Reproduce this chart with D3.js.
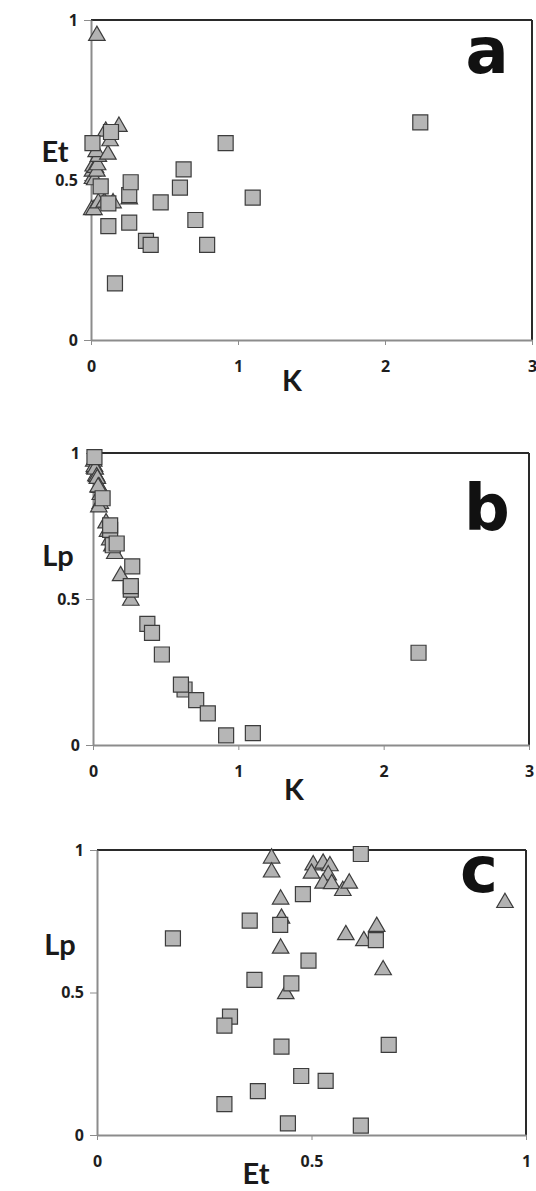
<!DOCTYPE html>
<html>
<head>
<meta charset="utf-8">
<script src="https://cdn.jsdelivr.net/npm/d3@7"></script>
<style>
  body { margin: 0; background: #fff; }
  svg { display: block; }
</style>
</head>
<body>
<div id="chart"></div>
<script>
// squares: K, Et, Lp for each sample
var sqK  = [0.01, 0.136, 0.916, 0.63, 0.605, 1.10, 0.066, 0.26, 0.118, 0.474, 0.71, 0.118, 0.26, 0.374, 0.406, 0.79, 0.163, 2.24, 0.27];
var sqEt = [0.615, 0.65, 0.615, 0.533, 0.476, 0.445, 0.48, 0.453, 0.427, 0.43, 0.375, 0.356, 0.367, 0.31, 0.297, 0.297, 0.177, 0.68, 0.493];
var sqLp = [0.986, 0.684, 0.033, 0.19, 0.207, 0.041, 0.845, 0.532, 0.737, 0.31, 0.154, 0.752, 0.544, 0.415, 0.384, 0.108, 0.69, 0.316, 0.612];

// triangles: K, Et, Lp
var triK  = [0.005, 0.02, 0.05, 0.09, 0.15, 0.26, 0.01, 0.01, 0.015, 0.025, 0.03, 0.04, 0.045, 0.05, 0.035, 0.115, 0.13, 0.1, 0.19, 0.04];
var triEt = [0.407, 0.407, 0.428, 0.43, 0.428, 0.44, 0.504, 0.527, 0.543, 0.50, 0.539, 0.527, 0.547, 0.573, 0.588, 0.58, 0.622, 0.652, 0.667, 0.951];
var triLp = [0.971, 0.922, 0.827, 0.76, 0.655, 0.495, 0.947, 0.953, 0.944, 0.918, 0.912, 0.883, 0.881, 0.857, 0.883, 0.702, 0.681, 0.731, 0.579, 0.815];

var kTicks = [0, 1, 2, 3];
var unitTicks = [0, 0.5, 1];

var squares = sqK.map(function (k, i) { return {K: k, Et: sqEt[i], Lp: sqLp[i]}; });
var triangles = triK.map(function (k, i) { return {K: k, Et: triEt[i], Lp: triLp[i]}; });

// one entry per panel
var panels = [
    {letter: "a", xKey: "K", yKey: "Et", xName: "K", yName: "Et", xDom: [0, 3], xTicks: kTicks,
     x0: 91, x1: 532, y0: 340, y1: 20, yNameX: 55, yNameY: 162, xNameX: 292, xNameY: 391, lx: 487, ly: 73},
    {letter: "b", xKey: "K", yKey: "Lp", xName: "K", yName: "Lp", xDom: [0, 3], xTicks: kTicks,
     x0: 93, x1: 529, y0: 745, y1: 453, yNameX: 58, yNameY: 566, xNameX: 294, xNameY: 800, lx: 487, ly: 530},
    {letter: "c", xKey: "Et", yKey: "Lp", xName: "Et", yName: "Lp", xDom: [0, 1], xTicks: unitTicks,
     x0: 97, x1: 526, y0: 1135, y1: 850, yNameX: 60, yNameY: 955, xNameX: 256, xNameY: 1184, lx: 479, ly: 892}
];

var svg = d3.select("#chart").append("svg")
        .attr("width", 536)
        .attr("height", 1191);

var tri = d3.symbol().type(d3.symbolTriangle).size(118);
var sq = d3.symbol().type(d3.symbolSquare).size(225);

panels.forEach(function (p) {
    var x = d3.scaleLinear().domain(p.xDom).range([p.x0, p.x1]);
    var y = d3.scaleLinear().domain([0, 1]).range([p.y0, p.y1]);
    var g = svg.append("g");

    // frame: top and right dark
    g.append("line").attr("x1", p.x0).attr("x2", p.x1).attr("y1", p.y1).attr("y2", p.y1)
            .attr("stroke", "#2a2a2a").attr("stroke-width", 2);
    g.append("line").attr("x1", p.x1).attr("x2", p.x1).attr("y1", p.y1).attr("y2", p.y0)
            .attr("stroke", "#2a2a2a").attr("stroke-width", 2);

    // axes (grey)
    var xAxis = g.append("g")
            .attr("transform", "translate(0," + p.y0 + ")")
            .call(d3.axisBottom(x).tickValues(p.xTicks).tickSize(5).tickSizeOuter(0)
                    .tickFormat(d3.format("")));
    var yAxis = g.append("g")
            .attr("transform", "translate(" + p.x0 + ",0)")
            .call(d3.axisLeft(y).tickValues(unitTicks).tickSize(7).tickSizeOuter(0)
                    .tickFormat(d3.format("")));
    [xAxis, yAxis].forEach(function (ax) {
        ax.select(".domain").attr("stroke", "#8c8c8c").attr("stroke-width", 2);
        ax.selectAll(".tick line").attr("stroke", "#8c8c8c").attr("stroke-width", 1);
        ax.selectAll(".tick text")
                .attr("fill", "#1e1e1e")
                .style("font-family", "'Open Sans', sans-serif")
                .style("font-weight", "bold")
                .style("font-size", "16px");
    });
    xAxis.selectAll(".tick text").attr("y", 21);
    yAxis.selectAll(".tick text").attr("x", -13);

    // axis titles
    g.append("text").attr("x", p.yNameX).attr("y", p.yNameY)
            .attr("text-anchor", "middle")
            .style("font-family", "Lato, sans-serif").style("font-weight", "bold")
            .style("font-size", "29px").attr("fill", "#1a1a1a")
            .text(p.yName);
    g.append("text").attr("x", p.xNameX).attr("y", p.xNameY)
            .attr("text-anchor", "middle")
            .style("font-family", "Lato, sans-serif").style("font-weight", "bold")
            .style("font-size", "29px").attr("fill", "#1a1a1a")
            .text(p.xName);

    // panel letter
    g.append("text").attr("x", p.lx).attr("y", p.ly)
            .attr("text-anchor", "middle")
            .style("font-family", "'DejaVu Sans', sans-serif").style("font-weight", "bold")
            .style("font-size", "64px").attr("fill", "#111")
            .text(p.letter);

    // markers: triangles under squares
    g.selectAll("path.tri")
            .data(triangles)
            .enter()
            .append("path")
            .attr("class", "tri")
            .attr("d", tri)
            .attr("transform", function (d) {
                return "translate(" + x(d[p.xKey]) + "," + y(d[p.yKey]) + ")";
            })
            .attr("fill", "#b2b2b2")
            .attr("stroke", "#3c3c3c")
            .attr("stroke-width", 1.2);
    g.selectAll("path.sq")
            .data(squares)
            .enter()
            .append("path")
            .attr("class", "sq")
            .attr("d", sq)
            .attr("transform", function (d) {
                return "translate(" + x(d[p.xKey]) + "," + y(d[p.yKey]) + ")";
            })
            .attr("fill", "#b6b6b6")
            .attr("stroke", "#3c3c3c")
            .attr("stroke-width", 1.2);
});
</script>
</body>
</html>
